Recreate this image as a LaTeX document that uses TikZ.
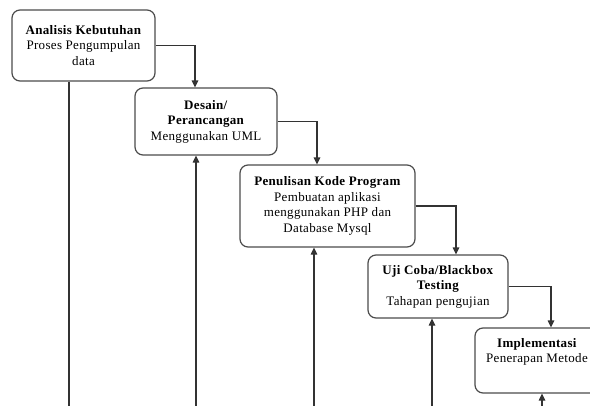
\documentclass[tikz,border=0pt]{standalone}
\usepackage{fontspec}
\setmainfont[LetterSpace=2.5]{Liberation Serif}
\usetikzlibrary{arrows.meta,calc}
\begin{document}
\begin{tikzpicture}[x=1pt,y=-1pt,
  phase/.style={draw=black!70, line width=1.2pt, rounded corners=8pt, fill=white,
    align=center, inner sep=2pt, font=\fontsize{13}{15.5}\selectfont},
  link/.style={draw=black!80, line width=1.2pt},
  arr/.style={link, -{Triangle[length=7pt,width=6.5pt]}}
]
\clip (0,0) rectangle (590,405);
\fill[white] (0,0) rectangle (590,405);
\coordinate (bot) at (0,412);

\node[phase, minimum width=143pt, minimum height=71pt] (b1) at (83.5,45.5)
  {\textbf{Analisis Kebutuhan}\\Proses Pengumpulan\\data};
\node[phase, minimum width=142pt, minimum height=67pt] (b2) at (206,121.5)
  {\textbf{Desain/}\\\textbf{Perancangan}\\Menggunakan UML};
\node[phase, minimum width=175pt, minimum height=82pt] (b3) at (327.5,206)
  {\textbf{Penulisan Kode Program}\\Pembuatan aplikasi\\menggunakan PHP dan\\Database Mysql};
\node[phase, minimum width=140pt, minimum height=63pt] (b4) at (438,286.5)
  {\textbf{Uji Coba/Blackbox}\\\textbf{Testing}\\Tahapan pengujian};
\node[phase, minimum width=124pt, minimum height=65pt] (b5) at (537,360.5)
  {\textbf{Implementasi}\\Penerapan Metode\\\strut};

% x positions of connectors
\coordinate (d2) at (195,0);
\coordinate (u2) at (196,0);
\coordinate (d3) at (317,0);
\coordinate (u3) at (314,0);
\coordinate (d4) at (456,0);
\coordinate (u4) at (432,0);
\coordinate (d5) at (551,0);
\coordinate (u5) at (542,0);
\coordinate (u1) at (69,0);

% downward flow
\draw[arr] (b1.east) -| (d2 |- b2.north);
\draw[arr] (b2.east) -| (d3 |- b3.north);
\draw[arr] (b3.east) -| (d4 |- b4.north);
\draw[arr] (b4.east) -| (d5 |- b5.north);

% feedback lines from the bottom
\draw[link] (u1 |- b1.south) -- (u1 |- bot);
\draw[arr] (u2 |- bot) -- (u2 |- b2.south);
\draw[arr] (u3 |- bot) -- (u3 |- b3.south);
\draw[arr] (u4 |- bot) -- (u4 |- b4.south);
\draw[arr] (u5 |- bot) -- (u5 |- b5.south);
\end{tikzpicture}
\end{document}
